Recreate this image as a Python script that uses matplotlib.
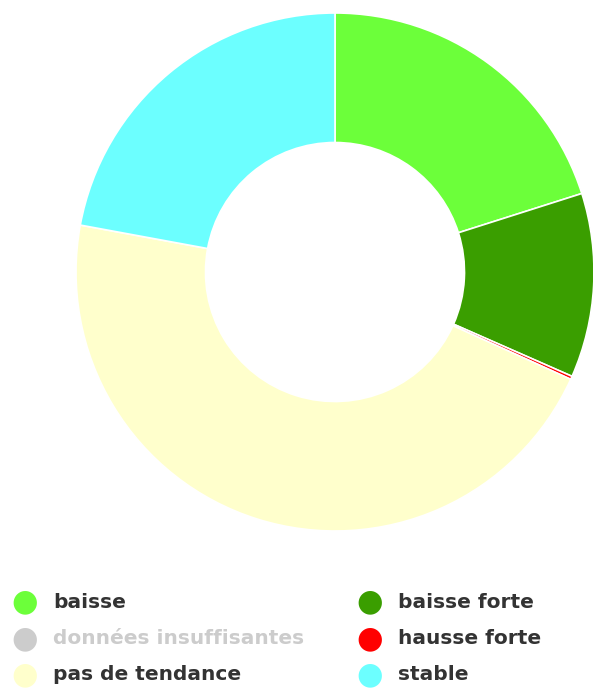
import matplotlib
matplotlib.use("Agg")
import matplotlib.pyplot as plt

# share of stations per trend class (percent), clockwise from top
labels = ["baisse", "baisse forte", "données insuffisantes", "hausse forte",
          "pas de tendance", "stable"]
values = [20.1, 11.5, 0.0, 0.2, 46.1, 22.1]
colors = ["#6CFF3A", "#3A9E00", "#CCCCCC", "#FF0000", "#FFFFCC", "#6CFFFF"]
hidden = ["données insuffisantes"]

W, H = 593, 689
fig = plt.figure(figsize=(W / 100, H / 100), dpi=100)

# donut
cx, cy, r = 335, 272, 259
ax = fig.add_axes([(cx - r) / W, 1 - (cy + r) / H, 2 * r / W, 2 * r / H])
shown = [(v, c) for l, v, c in zip(labels, values, colors) if l not in hidden]
ax.pie([v for v, _ in shown], colors=[c for _, c in shown], startangle=90,
       counterclock=False, radius=1.0,
       wedgeprops=dict(width=0.5, edgecolor="white", linewidth=1.2))
ax.set_xlim(-1, 1)
ax.set_ylim(-1, 1)
ax.set_aspect("equal")
ax.axis("off")

# legend, two columns laid out row by row
for i, (name, col) in enumerate(zip(labels, colors)):
    x = 25 + (i % 2) * 345
    y = 602 + (i // 2) * 36.5
    off = name in hidden
    fig.text(x / W, 1 - y / H, "\u25CF", color="#CCCCCC" if off else col,
             fontsize=22, ha="center", va="center")
    fig.text((x + 28) / W, 1 - y / H, name, color="#CCCCCC" if off else "#333333",
             fontsize=14.5, fontweight="bold", ha="left", va="center")

fig.savefig("out.png", dpi=100)
